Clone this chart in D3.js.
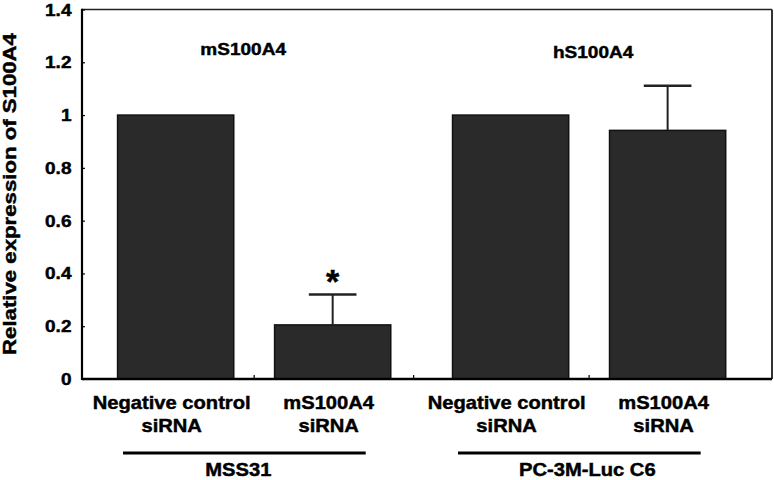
<!DOCTYPE html>
<html>
<head>
<meta charset="utf-8">
<script src="https://cdn.jsdelivr.net/npm/d3@7"></script>
<style>
  html, body { margin: 0; padding: 0; background: #fff; }
  svg { display: block; }
  text { font-family: "Liberation Sans", Arial, Helvetica, sans-serif; font-weight: bold; fill: #000; stroke: #000; stroke-width: 0.45px; }
</style>
</head>
<body>
<svg id="chart" width="774" height="480"></svg>
<script>
// ---- data ----
const groups = ["MSS31", "PC-3M-Luc C6"];
const groupTitles = ["mS100A4", "hS100A4"];
const conditions = ["Negative control siRNA", "mS100A4 siRNA"];
const conditionLines = [["Negative control", "siRNA"], ["mS100A4", "siRNA"]];
const mss31Values = [1.0, 0.205];
const pc3mValues = [1.0, 0.942];
const mss31Errors = [0, 0.115];
const pc3mErrors = [0, 0.169];
const mss31Marks = ["", "*"];
const pc3mMarks = ["", ""];
const yTicks = [0, 0.2, 0.4, 0.6, 0.8, 1.0, 1.2, 1.4];
const yTickLabels = ["0", "0.2", "0.4", "0.6", "0.8", "1", "1.2", "1.4"];
const yTitle = "Relative expression of S100A4";

const seriesValues = [mss31Values, pc3mValues];
const seriesErrors = [mss31Errors, pc3mErrors];
const seriesMarks = [mss31Marks, pc3mMarks];

const rows = [];
groups.forEach((g, gi) => conditions.forEach((c, ci) => rows.push({
  group: g, cond: c, value: seriesValues[gi][ci], err: seriesErrors[gi][ci], mark: seriesMarks[gi][ci]
})));

// ---- layout ----
const svg = d3.select("#chart");
const pLeft = 82, pRight = 772, pTop = 9.5, pBottom = 379;
const SX = 1.12; // horizontal stretch of the reference lettering

const y = d3.scaleLinear().domain([0, 1.4]).range([pBottom, pTop]);
const x0 = d3.scaleBand().domain(groups).range([pLeft, pRight])
  .paddingInner(0.1).paddingOuter(0.08).align(0.4);
const x1 = d3.scaleBand().domain(conditions).range([0, x0.bandwidth()])
  .paddingInner(0.26).paddingOuter(0.09);

function label(sel, x, yy, txt, size, anchor, sx) {
  return sel.append("text")
    .attr("transform", `translate(${x},${yy}) scale(${sx || SX},1)`)
    .attr("text-anchor", anchor || "middle")
    .attr("font-size", size)
    .text(txt);
}

// frame top/right
svg.append("line").attr("x1", pLeft).attr("x2", pRight).attr("y1", pTop).attr("y2", pTop)
  .attr("stroke", "#222").attr("stroke-width", 1.5);
svg.append("line").attr("x1", pRight).attr("x2", pRight).attr("y1", pTop).attr("y2", pBottom)
  .attr("stroke", "#333").attr("stroke-width", 2);

// bars
const bars = svg.append("g");
bars.selectAll("rect").data(rows).join("rect")
  .attr("x", d => x0(d.group) + x1(d.cond))
  .attr("y", d => y(d.value))
  .attr("width", x1.bandwidth())
  .attr("height", d => y(0) - y(d.value))
  .attr("fill", "#2a2a2a")
  .attr("stroke", "#111")
  .attr("stroke-width", 1.5);

// error bars
const eb = rows.filter(d => d.err > 0);
const capW = x1.bandwidth() * 0.41;
const cx = d => x0(d.group) + x1(d.cond) + x1.bandwidth() / 2;
svg.append("g").selectAll("line.v").data(eb).join("line")
  .attr("x1", cx).attr("x2", cx)
  .attr("y1", d => y(d.value)).attr("y2", d => y(d.value + d.err))
  .attr("stroke", "#222").attr("stroke-width", 2);
svg.append("g").selectAll("line.c").data(eb).join("line")
  .attr("x1", d => cx(d) - capW / 2).attr("x2", d => cx(d) + capW / 2)
  .attr("y1", d => y(d.value + d.err)).attr("y2", d => y(d.value + d.err))
  .attr("stroke", "#222").attr("stroke-width", 2.5);

// significance marks
rows.filter(d => d.mark).forEach(d => {
  label(svg, cx(d), y(d.value + d.err) - 2, d.mark, 34, "middle", 1);
});

// y axis
const yAxis = d3.axisLeft(y).tickValues(yTicks)
  .tickFormat((d, i) => yTickLabels[i]).tickSize(-3).tickPadding(0);
const gy = svg.append("g").attr("transform", `translate(${pLeft},0)`).call(yAxis);
gy.select(".domain").remove();
gy.selectAll(".tick line").attr("stroke", "#000").attr("stroke-width", 1.2);
gy.selectAll(".tick text").remove();
yTicks.forEach((t, i) => label(svg, pLeft - 10.5, y(t) + 6, yTickLabels[i], 17, "end"));
svg.append("line").attr("x1", pLeft).attr("x2", pLeft).attr("y1", pTop - 0.75).attr("y2", pBottom + 1)
  .attr("stroke", "#000").attr("stroke-width", 2.2);

// x axis line and ticks
svg.append("line").attr("x1", pLeft).attr("x2", pRight).attr("y1", pBottom).attr("y2", pBottom)
  .attr("stroke", "#000").attr("stroke-width", 2.4);
const xTickPos = [
  x0(groups[0]) + x0.bandwidth() / 2,
  (x0(groups[0]) + x0.bandwidth() + x0(groups[1])) / 2 - 8,
  x0(groups[1]) + x0.bandwidth() / 2
];
svg.append("g").selectAll("line").data(xTickPos).join("line")
  .attr("x1", d => d).attr("x2", d => d).attr("y1", pBottom).attr("y2", pBottom - 4)
  .attr("stroke", "#000").attr("stroke-width", 1.2);

// category labels
rows.forEach(d => {
  const lines = conditionLines[conditions.indexOf(d.cond)];
  label(svg, cx(d) - 4, 409, lines[0], 18);
  label(svg, cx(d) - 4, 432, lines[1], 18);
});

// group underline + names
groups.forEach((g, gi) => {
  const gx = x0(g), bw = x0.bandwidth();
  const a = gx + bw * 0.065, b = gx + bw * 0.87;
  svg.append("line").attr("x1", a).attr("x2", b).attr("y1", 453).attr("y2", 453)
    .attr("stroke", "#000").attr("stroke-width", 3);
  label(svg, (a + b) / 2 + (gi === 0 ? -6 : 8), 476, g, 18);
  // group titles inside plot
  label(svg, gx + bw / 2 + (gi === 0 ? -11 : 4), gi === 0 ? 55 : 58, groupTitles[gi], 17);
});

// y title
svg.append("text")
  .attr("transform", `translate(15.5,194) rotate(-90) scale(1.2,1)`)
  .attr("text-anchor", "middle")
  .attr("font-size", 18.5)
  .text(yTitle);
</script>
</body>
</html>
